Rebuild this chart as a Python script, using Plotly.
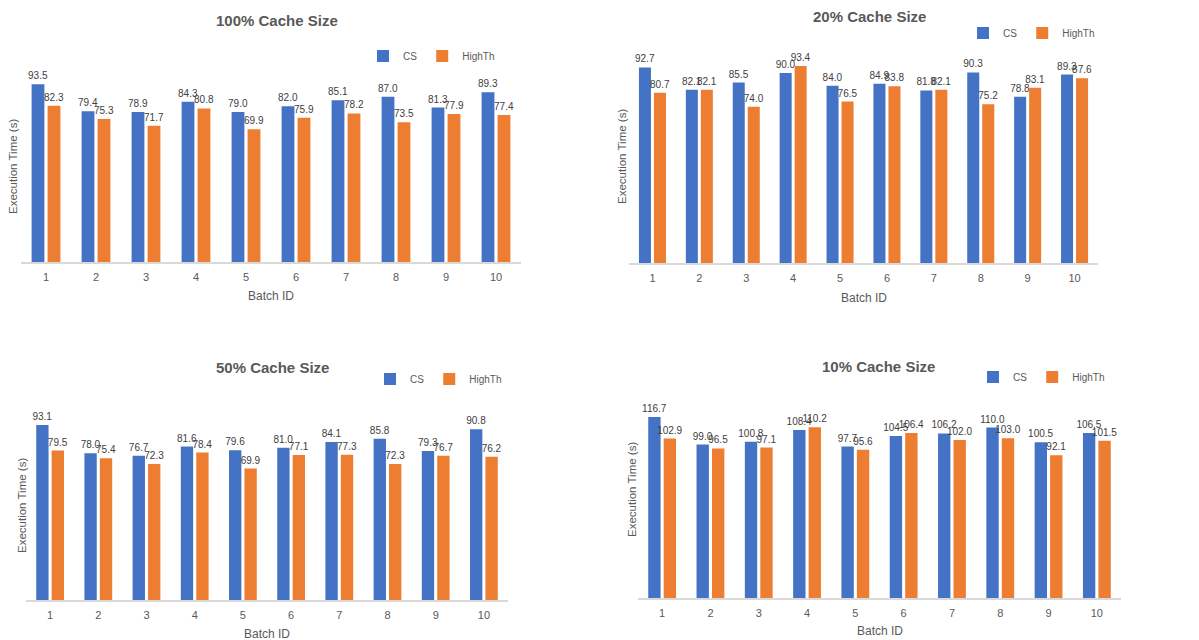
import plotly.graph_objects as go

batch_ids = ["1", "2", "3", "4", "5", "6", "7", "8", "9", "10"]

cs_100 = [93.5, 79.4, 78.9, 84.3, 79.0, 82.0, 85.1, 87.0, 81.3, 89.3]
highth_100 = [82.3, 75.3, 71.7, 80.8, 69.9, 75.9, 78.2, 73.5, 77.9, 77.4]

cs_20 = [92.7, 82.1, 85.5, 90.0, 84.0, 84.9, 81.8, 90.3, 78.8, 89.3]
highth_20 = [80.7, 82.1, 74.0, 93.4, 76.5, 83.8, 82.1, 75.2, 83.1, 87.6]

cs_50 = [93.1, 78.0, 76.7, 81.6, 79.6, 81.0, 84.1, 85.8, 79.3, 90.8]
highth_50 = [79.5, 75.4, 72.3, 78.4, 69.9, 77.1, 77.3, 72.3, 76.7, 76.2]

cs_10 = [116.7, 99.0, 100.8, 108.4, 97.7, 104.5, 106.2, 110.0, 100.5, 106.5]
highth_10 = [102.9, 96.5, 97.1, 110.2, 95.6, 106.4, 102.0, 103.0, 92.1, 101.5]

titles = ["100% Cache Size", "20% Cache Size", "50% Cache Size", "10% Cache Size"]
panels = [(cs_100, highth_100), (cs_20, highth_20), (cs_50, highth_50), (cs_10, highth_10)]

W, H = 1199, 640
BLUE = "#4472C4"
ORANGE = "#ED7D31"
GRAY = "#595959"
FONT = "Liberation Sans Narrow, Liberation Sans, Arial, sans-serif"

# pixel geometry: (x_left, x_right, y_top, y_bottom, ymax)
geom = [
    (21, 521, 72, 262, 100),
    (629, 1098, 52, 263, 100),
    (26, 508, 412, 600, 100),
    (638, 1121, 412, 598, 120),
]
legend_pos = [(500, 56), (1100, 33), (507, 379), (1110, 377)]
title_pos = [(277, 20), (869, 16), (272, 367), (878, 366)]
ytitle_pos = [(13, 167), (622, 157), (22, 506), (632, 490)]
xtitle_pos = [296, 298, 634, 631]

def fx(px):
    return px / W

def fy(py):
    return 1 - py / H

fig = go.Figure()
annotations = []
layout = {}
for i, ((cs, ht), title, g) in enumerate(zip(panels, titles, geom)):
    n = "" if i == 0 else str(i + 1)
    leg = "legend" if i == 0 else f"legend{i + 1}"
    for name, vals, color in [("CS", cs, BLUE), ("HighTh", ht, ORANGE)]:
        fig.add_trace(go.Bar(
            x=batch_ids, y=vals, name=name,
            marker=dict(color=color, line=dict(width=0)),
            texttemplate="%{y:.1f}", textposition="outside",
            constraintext="none", cliponaxis=False,
            textfont=dict(size=10, color="#404040", family=FONT),
            xaxis="x" + n, yaxis="y" + n, legend=leg,
            hovertemplate=name + " batch %{x}: %{y:.1f}s<extra></extra>",
        ))
    x0, x1, yt, yb, ymax = g
    layout["xaxis" + n] = dict(
        domain=[fx(x0), fx(x1)], anchor="y" + n, type="category",
        showline=True, linecolor="#D9D9D9", linewidth=1.5,
        showgrid=False, ticks="", tickfont=dict(size=11, color=GRAY, family=FONT),
        ticklabelstandoff=4, fixedrange=True,
    )
    layout["yaxis" + n] = dict(
        domain=[fy(yb), fy(yt)], anchor="x" + n, range=[0, ymax],
        showline=False, showgrid=False, zeroline=False, showticklabels=False,
        fixedrange=True,
    )
    lx, ly = legend_pos[i]
    layout[leg] = dict(
        orientation="h", x=fx(lx), y=fy(ly), xanchor="right", yanchor="middle",
        font=dict(size=10, color=GRAY, family=FONT), itemwidth=30,
        bgcolor="rgba(0,0,0,0)", traceorder="normal",
    )
    tx, ty = title_pos[i]
    annotations.append(dict(
        text="<b>" + title + "</b>", x=fx(tx), y=fy(ty), xref="paper", yref="paper",
        showarrow=False, font=dict(size=15, color=GRAY, family=FONT),
        xanchor="center", yanchor="middle",
    ))
    yx, yy = ytitle_pos[i]
    annotations.append(dict(
        text="Execution Time (s)", x=fx(yx), y=fy(yy), xref="paper", yref="paper",
        showarrow=False, textangle=-90, font=dict(size=11.5, color=GRAY, family=FONT),
        xanchor="center", yanchor="middle",
    ))
    annotations.append(dict(
        text="Batch ID", x=fx((x0 + x1) / 2), y=fy(xtitle_pos[i]), xref="paper", yref="paper",
        showarrow=False, font=dict(size=12, color=GRAY, family=FONT),
        xanchor="center", yanchor="middle",
    ))

fig.update_layout(
    width=W, height=H, margin=dict(l=0, r=0, t=0, b=0),
    paper_bgcolor="white", plot_bgcolor="white",
    barmode="group", bargap=0.36, bargroupgap=0.2,
    font=dict(family=FONT, color=GRAY),
    annotations=annotations, showlegend=True,
    **layout,
)

fig.write_html(
    "out.html",
    config={"displayModeBar": False},
    post_script="document.body.style.margin='0';document.body.style.overflow='hidden';",
)
